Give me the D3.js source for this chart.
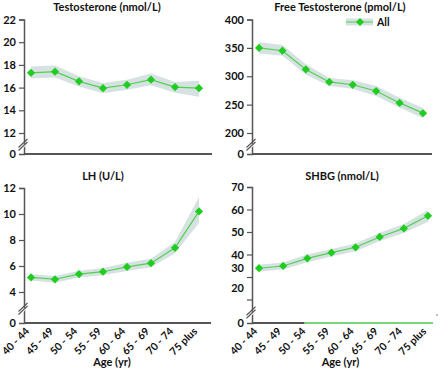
<!DOCTYPE html>
<html><head><meta charset="utf-8">
<script src="https://cdn.jsdelivr.net/npm/d3@7"></script>
<style>
body{margin:0;background:#fff;}
svg{display:block;font-family:Lato,"Liberation Sans",sans-serif;}
</style></head>
<body><svg id="c" width="440" height="369"></svg>
<script>
const categories = ["40 - 44","45 - 49","50 - 54","55 - 59","60 - 64","65 - 69","70 - 74","75 plus"];

const testosterone   = [17.3, 17.4, 16.55, 15.95, 16.25, 16.7, 16.05, 15.95];
const testosteroneLo = [16.8, 16.9, 16.1, 15.5, 15.8, 16.2, 15.55, 15.2];
const testosteroneHi = [17.85, 17.95, 17.0, 16.4, 16.7, 17.25, 16.5, 16.6];
const testosteroneTicks = [0, 12, 14, 16, 18, 20, 22];

const freeT   = [350, 345, 312, 290, 285, 274, 253, 235];
const freeTLo = [340, 336, 303, 283, 278, 265, 245, 226];
const freeTHi = [360, 355, 321, 297, 293, 283, 262, 244];
const freeTTicks = [0, 200, 250, 300, 350, 400];

const lh   = [5.12, 4.98, 5.38, 5.56, 5.93, 6.22, 7.4, 10.2];
const lhLo = [4.88, 4.72, 5.12, 5.28, 5.62, 5.9, 6.98, 9.3];
const lhHi = [5.36, 5.24, 5.64, 5.85, 6.25, 6.55, 7.85, 11.3];
const lhTicks = [0, 4, 6, 8, 10, 12];

const shbg   = [33.9, 34.9, 38.3, 40.8, 43.2, 47.8, 51.6, 57.2];
const shbgLo = [32.4, 33.3, 36.6, 39.1, 41.5, 46.0, 49.6, 54.6];
const shbgHi = [35.4, 36.5, 40.0, 42.5, 44.9, 49.7, 53.6, 59.8];
const shbgTicks = [0, 20, 30, 40, 50, 60, 70];

const titles = ["Testosterone (nmol/L)", "Free Testosterone (pmol/L)", "LH (U/L)", "SHBG (nmol/L)"];
const legendLabel = "All";
const xTitle = "Age (yr)";

const bandColor = "#d6e1e1";
const lineColor = "#4fd24f";
const markColor = "#1fcc1f";
const axisColor = "#555";

const svg = d3.select("#c");

const panels = [
  {title: titles[0], v: testosterone, lo: testosteroneLo, hi: testosteroneHi, ticks: testosteroneTicks,
   ydom: [0, 12, 22], yr: [154, 133, 19.5], xr: [31, 199], ax: 24, axEnd: 212, tx: 107, ty: 11, bottom: false},
  {title: titles[1], v: freeT, lo: freeTLo, hi: freeTHi, ticks: freeTTicks,
   ydom: [0, 200, 400], yr: [154, 133, 19.5], xr: [259, 423], ax: 252, axEnd: 432, tx: 340, ty: 11, bottom: false, legend: true},
  {title: titles[2], v: lh, lo: lhLo, hi: lhHi, ticks: lhTicks,
   ydom: [0, 4, 12], yr: [323, 292, 188], xr: [31, 199], ax: 24, axEnd: 211, tx: 103, ty: 180, bottom: true},
  {title: titles[3], v: shbg, lo: shbgLo, hi: shbgHi, ticks: shbgTicks,
   ydom: [0, 20, 70], yr: [323, 299.5, 187], xr: [259, 428], ax: 252, axEnd: 433, tx: 342, ty: 180, bottom: true, greenAxis: true}
];

panels.forEach((p, pi) => {
  const g = svg.append("g");
  const x = d3.scalePoint().domain(categories).range(p.xr);
  const y = d3.scaleLinear().domain(p.ydom).range(p.yr);
  const data = categories.map((c, i) => ({c, v: p.v[i], lo: p.lo[i], hi: p.hi[i]}));

  g.append("text").attr("x", p.tx).attr("y", p.ty).attr("text-anchor", "middle")
    .attr("font-size", 11).attr("font-weight", "bold").attr("fill", "#111").text(p.title);

  g.append("path").datum(data)
    .attr("d", d3.area().x(d => x(d.c)).y0(d => y(d.lo)).y1(d => y(d.hi)))
    .attr("fill", bandColor);

  g.append("path").datum(data)
    .attr("d", d3.line().x(d => x(d.c)).y(d => y(d.v)))
    .attr("fill", "none").attr("stroke", lineColor).attr("stroke-width", 1.2);

  const sym = d3.symbol().type(d3.symbolSquare).size(34);
  g.selectAll(".m").data(data).join("path")
    .attr("d", sym())
    .attr("transform", d => `translate(${x(d.c)},${y(d.v)}) rotate(45)`)
    .attr("fill", markColor);

  const yAxis = d3.axisLeft(y).tickValues(p.ticks).tickSize(5).tickPadding(3).tickFormat(d3.format("d"));
  const ya = g.append("g").attr("transform", `translate(${p.ax},0)`).call(yAxis);
  ya.select(".domain").attr("stroke", axisColor).attr("stroke-width", 1.5);
  ya.selectAll(".tick line").attr("stroke", axisColor).attr("stroke-width", 1.2);
  ya.selectAll(".tick text").attr("font-size", 11).attr("font-weight", "bold").attr("fill", "#111")
    .attr("font-family", "Lato, 'Liberation Sans', sans-serif");
  if (p.greenAxis) {
    ya.selectAll(".tick").filter(d => d === 20 || d === 30)
      .select("text").attr("dy", d => d === 20 ? "-0.7em" : "-0.5em");
  }
  ya.selectAll(".tick").filter(d => d === 0).select("line").remove();

  const y0 = y(0);
  g.append("line").attr("x1", p.ax).attr("x2", p.axEnd).attr("y1", y0).attr("y2", y0)
    .attr("stroke", axisColor).attr("stroke-width", 1.8);
  if (p.greenAxis) {
    const gx = (x(categories[1]) + x(categories[2])) / 2 + 9;
    g.append("line").attr("x1", gx).attr("x2", p.axEnd).attr("y1", y0).attr("y2", y0)
      .attr("stroke", "#7ad67a").attr("stroke-width", 1.8);
    g.append("circle").attr("cx", p.axEnd + 4).attr("cy", y0 - 8).attr("r", 0.7).attr("fill", "#555");
  }

  const yb = (y(0) + y(p.ydom[1])) / 2 + 1;
  const bk = g.append("g").attr("transform", `translate(${p.ax},${yb})`);
  bk.append("path").attr("d", "M-4,4 L4,-4 L4,-1 L-4,7 Z").attr("fill", "#fff");
  [[-5.5, 3, 3.5, -5.5], [-5.5, 6, 3.5, -2.5]].forEach(s =>
    bk.append("line").attr("x1", s[0]).attr("y1", s[1]).attr("x2", s[2]).attr("y2", s[3])
      .attr("stroke", axisColor).attr("stroke-width", 1.1));

  if (p.bottom) {
    g.selectAll(".xl").data(categories).join("text")
      .attr("transform", d => `translate(${x(d) - 1},${y0 + 9}) rotate(-45)`)
      .attr("text-anchor", "end").attr("font-size", 10.5).attr("font-weight", "bold").attr("fill", "#111")
      .text(d => d);
    g.append("text").attr("x", (p.xr[0] + p.xr[1]) / 2 - 3).attr("y", 366).attr("text-anchor", "middle")
      .attr("font-size", 11).attr("font-weight", "bold").attr("fill", "#111").text(xTitle);
  }

  if (p.legend) {
    const lg = g.append("g").attr("transform", "translate(346,22)");
    lg.append("rect").attr("x", 0).attr("y", -3.5).attr("width", 27).attr("height", 7).attr("fill", bandColor);
    lg.append("line").attr("x1", 0).attr("x2", 27).attr("stroke", lineColor).attr("stroke-width", 1);
    lg.append("path").attr("d", sym()).attr("transform", "translate(14,0) rotate(45)").attr("fill", markColor);
    lg.append("text").attr("x", 31).attr("y", 4).attr("font-size", 10.5).attr("font-weight", "bold")
      .attr("fill", "#111").text(legendLabel);
  }
});
</script></body></html>
